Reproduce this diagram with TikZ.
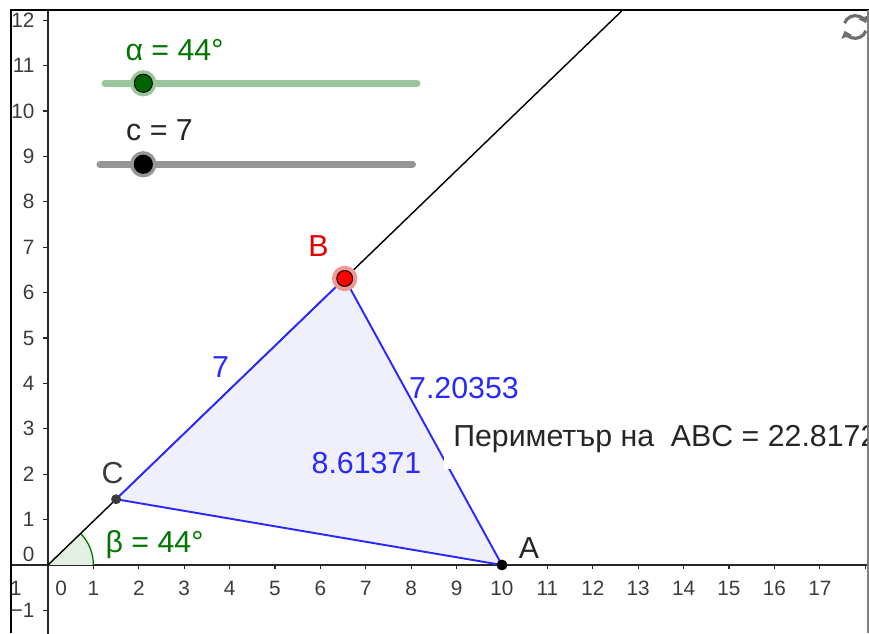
\documentclass[tikz,border=0pt]{standalone}
\usepackage{fontspec}
\setmainfont{Liberation Sans}
\usetikzlibrary{arrows.meta}
\definecolor{axisgray}{RGB}{40,40,40}
\definecolor{labgray}{RGB}{60,60,60}
\definecolor{sideblue}{RGB}{40,40,255}
\definecolor{trifill}{RGB}{240,240,253}
\definecolor{anggreen}{RGB}{0,118,0}
\definecolor{angfill}{RGB}{228,240,228}
\definecolor{knobgreen}{RGB}{0,100,0}
\definecolor{trackgreen}{RGB}{155,198,155}
\definecolor{trackgray}{RGB}{150,150,150}
\definecolor{haloRed}{RGB}{242,150,150}
\definecolor{icongray}{RGB}{110,110,110}
\begin{document}
\begin{tikzpicture}[x=1cm,y=1cm,
  lbl/.style={font=\fontsize{19}{22}\selectfont,inner sep=0pt,anchor=base},
  numlbl/.style={font=\fontsize{13}{15}\selectfont,text=labgray,inner sep=0pt}]
\useasboundingbox (-1.057,-1.498) rectangle (18.084,12.445);

\coordinate (O) at (0,0);
\coordinate (A) at (10,0);
\coordinate (C) at (1.5,1.4485);
\coordinate (B) at (6.5354,6.3111);
\coordinate (far) at (44:20);

\begin{scope}
\clip (-0.815,-1.498) rectangle (18.062,12.225);

% axes
\draw[axisgray,line width=0.9pt] (-1,0) -- (18.2,0);
\draw[axisgray,line width=0.9pt] (0,-1.6) -- (0,12.4);
\foreach \x in {-1,...,18}
{
  \draw[axisgray,line width=0.8pt] (\x,0) -- (\x,-0.09);
}
\foreach \x in {1,2,...,17}
{
  \node[numlbl,anchor=north] (xl\x) at (\x,-0.34) {\x};
}
\node[numlbl,anchor=north] (xl0) at (0.29,-0.34) {0};
\node[numlbl,anchor=north] (xlm1) at (-0.84,-0.34) {−1};
\foreach \y in {1,2,...,12}
{
  \draw[axisgray,line width=0.8pt] (0,\y) -- (-0.11,\y);
  \node[numlbl,anchor=east] (yl\y) at (-0.29,\y) {\y};
}
\draw[axisgray,line width=0.8pt] (0,-1) -- (-0.11,-1);
\node[numlbl,anchor=east] (ylm1) at (-0.29,-1) {−1};
\node[numlbl,anchor=east] (yl0) at (-0.29,0.23) {0};

% angle beta
\fill[angfill] (O) -- (1,0) arc (0:44:1) -- cycle;
\draw[anggreen,line width=0.8pt] (1,0) arc (0:44:1);
\draw[black,line width=0.9pt] (O) -- (far);

% triangle
\filldraw[fill=trifill,draw=sideblue,line width=1.2pt] (A) -- (B) -- (C) -- cycle;

\node[lbl,text=sideblue] (lenCB) at (3.8,4.119) {7};
\node[lbl,text=sideblue] (lenAB) at (9.163,3.678) {7.20353};
\node[lbl,text=sideblue] (lenCA) at (7.015,2.026) {8.61371};
\node[lbl,anchor=base west,fill=white,inner xsep=0.2cm,inner ysep=0.35cm,text=black!85] (perim) at (8.72,2.606) {Периметър на~ ABC = 22.8172};

\filldraw[fill=haloRed,draw=none] (B) circle (0.28);
\filldraw[fill=red,draw=black,line width=0.6pt] (B) circle (0.175);
\filldraw[fill=labgray,draw=none] (C) circle (0.11);
\filldraw[fill=black,draw=none] (A) circle (0.12);
\node[lbl,text=red!90!black] (lblB) at (5.958,6.784) {B};
\node[lbl,text=labgray] (lblC) at (1.421,1.806) {C};
\node[lbl,text=black!85] (lblA) at (10.595,0.154) {A};
\node[lbl,text=anggreen] (lblbeta) at (2.346,0.286) {β = 44°};

% sliders
\coordinate (aL) at (1.256,10.61);
\coordinate (aR) at (8.128,10.61);
\coordinate (aK) at (2.1,10.61);
\draw[trackgreen,line width=4.4pt,line cap=round] (aL) -- (aR);
\filldraw[fill=trackgreen,draw=none] (aK) circle (0.29);
\filldraw[fill=knobgreen,draw=black,line width=0.6pt] (aK) circle (0.2);
\node[lbl,text=anggreen] (lblalpha) at (2.786,11.123) {α = 44°};

\coordinate (cL) at (1.145,8.826);
\coordinate (cR) at (8.029,8.826);
\coordinate (cK) at (2.1,8.826);
\draw[trackgray,line width=4.4pt,line cap=round] (cL) -- (cR);
\filldraw[fill=trackgray,draw=none] (cK) circle (0.29);
\filldraw[fill=black,draw=black,line width=0.6pt] (cK) circle (0.2);
\node[lbl,text=black!85] (lblc) at (2.456,9.361) {c = 7};

% reset icon
\coordinate (rc) at (17.78,11.85);
\draw[icongray,line width=2pt,-{Triangle[length=4pt,width=7pt]}] (rc) ++(160:0.25) arc[start angle=160,end angle=20,radius=0.25];
\draw[icongray,line width=2pt,-{Triangle[length=4pt,width=7pt]}] (rc) ++(340:0.25) arc[start angle=340,end angle=200,radius=0.25];
\end{scope}

\draw[black,line width=1.3pt] (-0.815,-1.498) -- (-0.815,12.225) -- (18.084,12.225);
\draw[gray,line width=0.8pt] (18.062,12.225) -- (18.062,-1.498);
\end{tikzpicture}
\end{document}
